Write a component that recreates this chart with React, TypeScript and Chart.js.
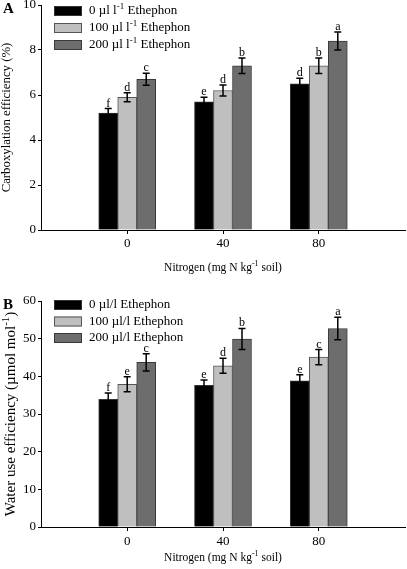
import React, { useEffect, useRef } from 'react';
import { Chart, registerables } from 'chart.js';
Chart.register(...registerables);

const FONT = '"Liberation Serif", "Times New Roman", serif';

// Shared categories
const nitrogen = [0, 40, 80];
const seriesColors = ['#000000', '#bfbfbf', '#6d6d6d'];
const seriesBorders = ['#333333', '#555555', '#3a3a3a'];

// Panel A: Carboxylation efficiency (%)
const aLabels = ['0 µl l^{-1} Ethephon', '100 µl l^{-1} Ethephon', '200 µl l^{-1} Ethephon'];
const aCtrl = [5.2, 5.7, 6.5];
const a100 = [5.9, 6.2, 7.3];
const a200 = [6.7, 7.3, 8.4];
const aErrCtrl = [0.2, 0.2, 0.24];
const aErr100 = [0.2, 0.24, 0.34];
const aErr200 = [0.27, 0.34, 0.4];
const aLetCtrl = ['f', 'e', 'd'];
const aLet100 = ['d', 'd', 'b'];
const aLet200 = ['c', 'b', 'a'];
const aTicks = [0, 2, 4, 6, 8, 10];

// Panel B: Water use efficiency
const bLabels = ['0 µl/l Ethephon', '100 µl/l Ethephon', '200 µl/l Ethephon'];
const bCtrl = [33.9, 37.6, 38.8];
const b100 = [37.9, 42.8, 45.1];
const b200 = [43.7, 49.9, 52.7];
const bErrCtrl = [1.7, 1.4, 1.6];
const bErr100 = [2.0, 2.0, 2.0];
const bErr200 = [2.3, 2.8, 3.0];
const bLetCtrl = ['f', 'e', 'e'];
const bLet100 = ['e', 'd', 'c'];
const bLet200 = ['c', 'b', 'a'];
const bTicks = [0, 10, 20, 30, 40, 50, 60];

const xTitle = 'Nitrogen (mg N kg^{-1} soil)';

type Part = { t: string; sup: boolean };
function parseRich(s: string): Part[] {
  const parts: Part[] = [];
  const re = /\^\{([^}]*)\}/g;
  let last = 0;
  let m: RegExpExecArray | null;
  while ((m = re.exec(s))) {
    if (m.index > last) parts.push({ t: s.slice(last, m.index), sup: false });
    parts.push({ t: m[1], sup: true });
    last = re.lastIndex;
  }
  if (last < s.length) parts.push({ t: s.slice(last), sup: false });
  return parts;
}

function drawRich(ctx: CanvasRenderingContext2D, s: string, x: number, y: number, size: number, align: 'left' | 'center') {
  const parts = parseRich(s);
  const f = (sup: boolean) => `${sup ? Math.round(size * 0.7) : size}px ${FONT}`;
  let total = 0;
  for (const p of parts) {
    ctx.font = f(p.sup);
    total += ctx.measureText(p.t).width;
  }
  let cx = align === 'center' ? x - total / 2 : x;
  ctx.textBaseline = 'middle';
  ctx.textAlign = 'left';
  ctx.fillStyle = '#000';
  for (const p of parts) {
    ctx.font = f(p.sup);
    ctx.fillText(p.t, cx, p.sup ? y - size * 0.35 : y);
    cx += ctx.measureText(p.t).width;
  }
}

type PanelProps = {
  top: number;
  height: number;
  xAxisHeight: number;
  xTickPad: number;
  xTitleOffset: number;
  yMax: number;
  yTicks: number[];
  series: number[][];
  errors: number[][];
  letters: string[][];
  labels: string[];
  yTitle: string;
  yTitleX: number;
  yTitleSize: number;
  panelLetter: string;
  legendTop: number;
  legendStep: number;
};

function Panel(props: PanelProps) {
  const ref = useRef<HTMLCanvasElement | null>(null);
  useEffect(() => {
    const canvas = ref.current;
    if (!canvas) return;
    const p = props;
    const extras = {
      id: 'extras',
      afterDatasetsDraw(chart: any) {
        const ctx: CanvasRenderingContext2D = chart.ctx;
        const ys = chart.scales.y;
        ctx.save();
        p.series.forEach((vals, di) => {
          const meta = chart.getDatasetMeta(di);
          meta.data.forEach((bar: any, j: number) => {
            const v = vals[j];
            const e = p.errors[di][j];
            const yt = ys.getPixelForValue(v + e);
            const yb = ys.getPixelForValue(v - e);
            const x = bar.x;
            ctx.strokeStyle = '#000';
            ctx.lineWidth = 1.5;
            ctx.beginPath();
            ctx.moveTo(x, yt);
            ctx.lineTo(x, yb);
            ctx.moveTo(x - 3.5, yt);
            ctx.lineTo(x + 3.5, yt);
            ctx.moveTo(x - 3.5, yb);
            ctx.lineTo(x + 3.5, yb);
            ctx.stroke();
            ctx.fillStyle = '#000';
            ctx.font = `12px ${FONT}`;
            ctx.textAlign = 'center';
            ctx.textBaseline = 'alphabetic';
            ctx.fillText(p.letters[di][j], x, yt - 2);
          });
        });
        ctx.restore();
      },
      afterDraw(chart: any) {
        const ctx: CanvasRenderingContext2D = chart.ctx;
        const area = chart.chartArea;
        ctx.save();
        // legend
        p.labels.forEach((lab, i) => {
          const cy = p.legendTop + i * p.legendStep;
          ctx.fillStyle = seriesColors[i];
          ctx.fillRect(54, cy - 5, 28, 10);
          ctx.strokeStyle = seriesBorders[i];
          ctx.lineWidth = 1;
          ctx.strokeRect(54.5, cy - 4.5, 27, 9);
          drawRich(ctx, lab, 89, cy, 13, 'left');
        });
        // y title
        ctx.save();
        ctx.translate(p.yTitleX, (area.top + area.bottom) / 2);
        ctx.rotate(-Math.PI / 2);
        drawRich(ctx, p.yTitle, 0, 0, p.yTitleSize, 'center');
        ctx.restore();
        // x title
        drawRich(ctx, xTitle, (area.left + area.right) / 2, chart.height - p.xTitleOffset, 11.5, 'center');
        // panel letter
        ctx.font = `bold 15px ${FONT}`;
        ctx.fillStyle = '#000';
        ctx.textAlign = 'left';
        ctx.textBaseline = 'middle';
        ctx.fillText(p.panelLetter, 3, area.top + 4);
        ctx.restore();
      },
    };
    const chart = new Chart(canvas, {
      type: 'bar',
      data: {
        datasets: p.series.map((vals, di) => ({
          label: p.labels[di],
          data: nitrogen.map((n, j) => ({ x: n, y: vals[j] })),
          backgroundColor: seriesColors[di],
          borderColor: seriesBorders[di],
          borderWidth: 1,
          barThickness: 19,
        })),
      },
      options: {
        responsive: false,
        animation: false,
        layout: { padding: { top: 10, right: 2, left: 0, bottom: 0 } },
        plugins: { legend: { display: false }, tooltip: { enabled: false } },
        scales: {
          x: {
            type: 'linear',
            min: -36,
            max: 116,
            offset: false,
            grid: { display: true, offset: false, drawOnChartArea: false, drawTicks: true, tickLength: 4, color: '#000' },
            border: { display: true, color: '#000', width: 1 },
            ticks: { font: { family: FONT, size: 13 }, color: '#000', padding: p.xTickPad },
            afterBuildTicks: (s: any) => {
              s.ticks = nitrogen.map((v) => ({ value: v }));
            },
            afterFit: (s: any) => {
              s.height = p.xAxisHeight;
            },
          },
          y: {
            min: 0,
            max: p.yMax,
            grid: { drawOnChartArea: false, tickLength: 3, color: '#000' },
            border: { display: true, color: '#000', width: 1 },
            ticks: { font: { family: FONT, size: 13 }, color: '#000', padding: 2 },
            afterBuildTicks: (s: any) => {
              s.ticks = p.yTicks.map((v) => ({ value: v }));
            },
            afterFit: (s: any) => {
              s.width = 41;
            },
          },
        },
      },
      plugins: [extras],
    } as any);
    return () => chart.destroy();
  }, []);
  return (
    <canvas
      ref={ref}
      width={407}
      height={props.height}
      style={{ position: 'absolute', left: 0, top: props.top, width: 407, height: props.height }}
    />
  );
}

export default function App() {
  return (
    <div style={{ position: 'absolute', left: 0, top: 0, width: 407, height: 569, background: '#fff' }}>
      <Panel
        top={-5}
        height={285}
        xAxisHeight={50}
        xTickPad={2}
        xTitleOffset={12}
        yMax={10}
        yTicks={aTicks}
        series={[aCtrl, a100, a200]}
        errors={[aErrCtrl, aErr100, aErr200]}
        letters={[aLetCtrl, aLet100, aLet200]}
        labels={aLabels}
        yTitle="Carboxylation efficiency (%)"
        yTitleX={7}
        yTitleSize={12.8}
        panelLetter="A"
        legendTop={16}
        legendStep={17}
      />
      <Panel
        top={291}
        height={278}
        xAxisHeight={42}
        xTickPad={3}
        xTitleOffset={11}
        yMax={60}
        yTicks={bTicks}
        series={[bCtrl, b100, b200]}
        errors={[bErrCtrl, bErr100, bErr200]}
        letters={[bLetCtrl, bLet100, bLet200]}
        labels={bLabels}
        yTitle="Water use efficiency (µmol mol^{-1})"
        yTitleX={11}
        yTitleSize={15}
        panelLetter="B"
        legendTop={14}
        legendStep={16.5}
      />
    </div>
  );
}
